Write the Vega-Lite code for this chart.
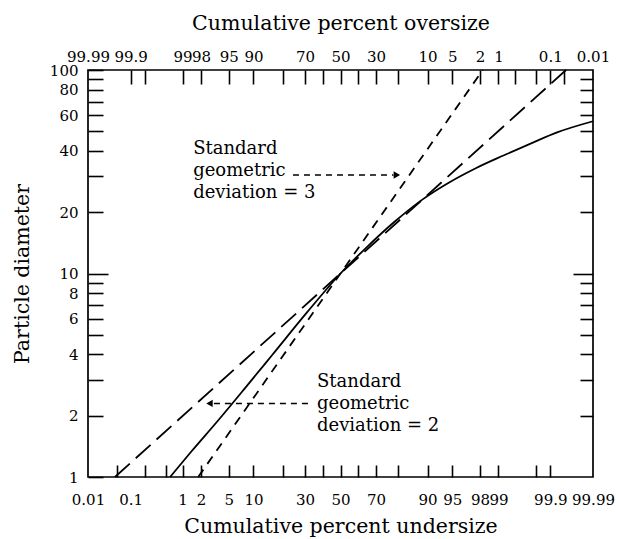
{
  "$schema": "https://vega.github.io/schema/vega-lite/v6.json",
  "width": 505,
  "height": 407,
  "autosize": {"type": "none"},
  "padding": {"left": 88, "top": 70, "right": 26, "bottom": 62},
  "background": "white",
  "config": {
    "view": {"stroke": "black", "strokeWidth": 1.7},
    "axis": {
      "grid": false, "domain": false,
      "labelFont": "DejaVu Serif", "labelFontSize": 15, "labelColor": "black",
      "titleFont": "DejaVu Serif", "titleFontSize": 20.5, "titleFontWeight": "normal", "titleColor": "black",
      "tickColor": "black", "tickWidth": 1.6,
      "labelFlush": false, "labelOverlap": false, "labelBound": false
    },
    "text": {"font": "DejaVu Serif"}
  },
  "resolve": {"axis": {"x": "independent", "y": "independent"}},
  "layer": [
    {
      "data": {"values": [
        {"z": -2.51, "d": 1.0},
        {"z": -2.2, "d": 1.33},
        {"z": -1.8, "d": 1.9},
        {"z": -1.4, "d": 2.75},
        {"z": -1.0, "d": 4.0},
        {"z": -0.5, "d": 6.4},
        {"z": 0.0, "d": 10.0},
        {"z": 0.4, "d": 13.6},
        {"z": 0.8, "d": 18.0},
        {"z": 1.2, "d": 23.0},
        {"z": 1.6, "d": 28.0},
        {"z": 2.0, "d": 33.0},
        {"z": 2.4, "d": 38.0},
        {"z": 2.8, "d": 43.5},
        {"z": 3.2, "d": 49.5},
        {"z": 3.719, "d": 56.0}
      ]},
      "mark": {"type": "line", "color": "black", "strokeWidth": 1.8, "interpolate": "monotone"},
      "encoding": {
        "x": {"field": "z", "type": "quantitative",
          "scale": {"domain": [-3.719, 3.719], "nice": false, "zero": false},
          "axis": {"orient": "bottom", "ticks": false, "labelPadding": 15,
            "values": [-3.719, -3.09, -2.326, -2.054, -1.645, -1.282, -0.524, 0, 0.524, 1.282, 1.645, 2.054, 2.326, 3.09, 3.719],
            "labelExpr": "datum.value < -3.4 ? '0.01' : datum.value < -2.7 ? '0.1' : datum.value < -2.2 ? '1' : datum.value < -1.8 ? '2' : datum.value < -1.4 ? '5' : datum.value < -1 ? '10' : datum.value < -0.3 ? '30' : datum.value < 0.3 ? '50' : datum.value < 1 ? '70' : datum.value < 1.4 ? '90' : datum.value < 1.8 ? '95' : datum.value < 2.2 ? '98' : datum.value < 2.7 ? '99' : datum.value < 3.4 ? '99.9' : '99.99'",
            "title": "Cumulative percent undersize", "titleY": 55, "titleBaseline": "alphabetic"}},
        "y": {"field": "d", "type": "quantitative",
          "scale": {"type": "log", "domain": [1, 100], "nice": false},
          "axis": {"orient": "left", "ticks": false, "labelPadding": 10, "format": "d",
            "values": [1, 2, 4, 6, 8, 10, 20, 40, 60, 80, 100],
            "title": "Particle diameter", "titleX": -60, "titleBaseline": "alphabetic", "titleAngle": -90}}
      }
    },
    {
      "data": {"values": [
        {"z": -2.096, "d": 1},
        {"z": 2.096, "d": 100}
      ]},
      "mark": {"type": "line", "color": "black", "strokeWidth": 1.8, "strokeDash": [9, 7]},
      "encoding": {
        "x": {"field": "z", "type": "quantitative",
          "scale": {"domain": [-3.719, 3.719], "nice": false, "zero": false},
          "axis": {"orient": "bottom", "labels": false, "tickSize": -12, "title": null,
            "values": [-3.291, -2.878, -2.576, -2.326, -2.054, -1.645, -1.282, -0.842, -0.524, -0.253, 0, 0.253, 0.524, 0.842, 1.282, 1.645, 2.054, 2.326, 2.878, 3.09]}},
        "y": {"field": "d", "type": "quantitative",
          "scale": {"type": "log", "domain": [1, 100], "nice": false},
          "axis": {"orient": "left", "labels": false, "tickSize": -15, "title": null,
            "values": [1, 2, 3, 4, 5, 6, 7, 8, 9, 20, 30, 40, 50, 60, 70, 80, 90, 100]}}
      }
    },
    {
      "data": {"values": [
        {"z": -3.322, "d": 1},
        {"z": 3.322, "d": 100}
      ]},
      "mark": {"type": "line", "color": "black", "strokeWidth": 1.8, "strokeDash": [20, 8]},
      "encoding": {
        "x": {"field": "z", "type": "quantitative",
          "scale": {"domain": [-3.719, 3.719], "nice": false, "zero": false},
          "axis": {"orient": "top", "ticks": false, "labelPadding": 6,
            "values": [-3.719, -3.09, -2.326, -2.054, -1.645, -1.282, -0.524, 0, 0.524, 1.282, 1.645, 2.054, 2.326, 3.09, 3.719],
            "labelExpr": "datum.value < -3.4 ? '99.99' : datum.value < -2.7 ? '99.9' : datum.value < -2.2 ? '99' : datum.value < -1.8 ? '98' : datum.value < -1.4 ? '95' : datum.value < -1 ? '90' : datum.value < -0.3 ? '70' : datum.value < 0.3 ? '50' : datum.value < 1 ? '30' : datum.value < 1.4 ? '10' : datum.value < 1.8 ? '5' : datum.value < 2.2 ? '2' : datum.value < 2.7 ? '1' : datum.value < 3.4 ? '0.1' : '0.01'",
            "title": "Cumulative percent oversize", "titleY": -41, "titleBaseline": "alphabetic"}},
        "y": {"field": "d", "type": "quantitative",
          "scale": {"type": "log", "domain": [1, 100], "nice": false},
          "axis": {"orient": "right", "labels": false, "tickSize": -13, "title": null,
            "values": [2, 3, 4, 5, 6, 7, 8, 9, 20, 30, 40, 50, 60, 70, 80, 90]}}
      }
    },
    {
      "data": {"values": [
        {"z": -2.17, "d": 40.9, "label": "Standard\ngeometric\ndeviation = 3"},
        {"z": -0.346, "d": 2.93, "label": "Standard\ngeometric\ndeviation = 2"}
      ]},
      "mark": {"type": "text", "align": "left", "baseline": "middle", "fontSize": 18, "lineHeight": 22, "lineBreak": "\n", "color": "black"},
      "encoding": {
        "x": {"field": "z", "type": "quantitative",
          "scale": {"domain": [-3.719, 3.719], "nice": false, "zero": false},
          "axis": {"orient": "top", "labels": false, "tickSize": -14, "title": null,
            "values": [-3.09, -2.878, -2.326, -2.054, -1.645, -1.282, -0.842, -0.524, -0.253, 0, 0.253, 0.524, 0.842, 1.282, 1.645, 2.054, 2.326, 2.576, 2.878, 3.09, 3.291]}},
        "y": {"field": "d", "type": "quantitative",
          "scale": {"type": "log", "domain": [1, 100], "nice": false},
          "axis": {"orient": "left", "labels": false, "tickSize": -20, "title": null, "values": [10]}},
        "text": {"field": "label"}
      }
    },
    {
      "data": {"values": [
        {"z1": -0.70, "z2": 0.78, "d": 30.5},
        {"z1": -0.48, "z2": -1.88, "d": 2.3}
      ]},
      "mark": {"type": "rule", "color": "black", "strokeWidth": 1.5, "strokeDash": [6, 5]},
      "encoding": {
        "x": {"field": "z1", "type": "quantitative",
          "scale": {"domain": [-3.719, 3.719], "nice": false, "zero": false}, "axis": null},
        "x2": {"field": "z2"},
        "y": {"field": "d", "type": "quantitative",
          "scale": {"type": "log", "domain": [1, 100], "nice": false},
          "axis": {"orient": "right", "labels": false, "tickSize": -20, "title": null, "values": [10]}}
      }
    },
    {
      "data": {"values": [
        {"z": 0.83, "d": 30.5, "dir": "right"},
        {"z": -1.93, "d": 2.3, "dir": "left"}
      ]},
      "mark": {"type": "point", "filled": true, "color": "black", "size": 55, "opacity": 1},
      "encoding": {
        "x": {"field": "z", "type": "quantitative",
          "scale": {"domain": [-3.719, 3.719], "nice": false, "zero": false}, "axis": null},
        "y": {"field": "d", "type": "quantitative",
          "scale": {"type": "log", "domain": [1, 100], "nice": false}, "axis": null},
        "shape": {"field": "dir", "type": "nominal",
          "scale": {"domain": ["right", "left"], "range": ["triangle-right", "triangle-left"]}, "legend": null}
      }
    }
  ]
}
